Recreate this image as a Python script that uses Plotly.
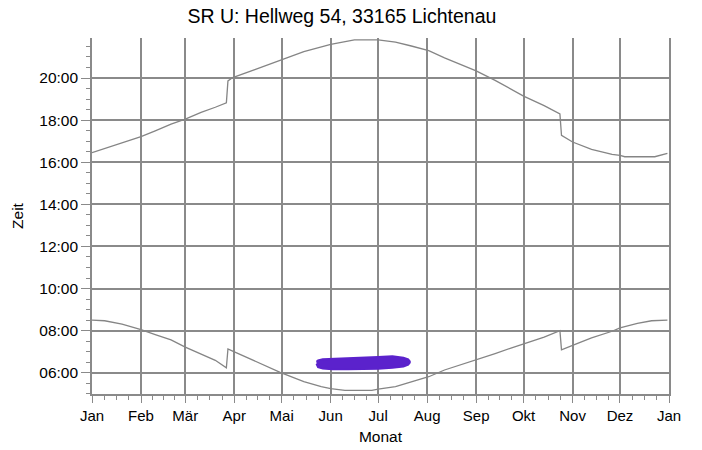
import plotly.graph_objects as go

# ---- data ----
month_labels = ["Jan", "Feb", "Mär", "Apr", "Mai", "Jun", "Jul", "Aug", "Sep", "Okt", "Nov", "Dez", "Jan"]
month_starts = [0, 31, 59, 90, 120, 151, 181, 212, 243, 273, 304, 334, 365]

# sunset (upper curve): day of year, hour
sunset_day = [0, 8, 19, 31, 40, 50, 59, 69, 78, 85, 86, 89, 103, 119, 134, 151, 166, 181,
              192, 202, 213, 223, 234, 243, 255, 265, 273, 286, 296, 297, 304, 316, 329, 334,
              337, 356, 364]
sunset_h = [16.45, 16.64, 16.90, 17.22, 17.49, 17.81, 18.05, 18.37, 18.61, 18.82, 19.86, 20.02,
            20.40, 20.85, 21.25, 21.60, 21.81, 21.81, 21.70, 21.52, 21.30, 20.96, 20.64, 20.34,
            19.89, 19.49, 19.14, 18.69, 18.29, 17.28, 16.96, 16.61, 16.37, 16.32, 16.26, 16.26,
            16.42]

# sunrise (lower curve): day of year, hour
sunrise_day = [0, 8, 19, 31, 40, 50, 59, 69, 78, 85, 86, 89, 103, 119, 134, 145, 151, 160,
               177, 181, 192, 202, 213, 223, 234, 243, 255, 265, 273, 286, 296, 297, 304, 316,
               329, 334, 345, 354, 364]
sunrise_h = [8.50, 8.47, 8.31, 8.05, 7.81, 7.56, 7.22, 6.88, 6.59, 6.23, 7.13, 7.03, 6.56, 6.02,
             5.58, 5.34, 5.25, 5.16, 5.16, 5.22, 5.34, 5.55, 5.81, 6.13, 6.39, 6.63, 6.91, 7.17,
             7.38, 7.69, 8.00, 7.09, 7.30, 7.66, 7.97, 8.13, 8.34, 8.47, 8.50]

# shadow period (purple area): day of year, start and end hour
shadow_day = [142, 143, 146, 152, 162, 172, 181, 190, 197, 200, 201]
shadow_start = [6.42, 6.26, 6.20, 6.17, 6.16, 6.17, 6.19, 6.24, 6.30, 6.38, 6.48]
shadow_end = [6.52, 6.58, 6.64, 6.67, 6.70, 6.73, 6.75, 6.78, 6.71, 6.63, 6.54]

y_tick_hours = [6, 8, 10, 12, 14, 16, 18, 20]
y_tick_labels = ["06:00", "08:00", "10:00", "12:00", "14:00", "16:00", "18:00", "20:00"]

# ---- figure ----
line_grey = "#858585"
grid_grey = "#8a8a8a"
font_family = "Liberation Sans, Arial, sans-serif"

fig = go.Figure()

fig.add_trace(go.Scatter(
    x=shadow_day + shadow_day[::-1],
    y=shadow_start + shadow_end[::-1],
    fill="toself", fillcolor="#5b22cc",
    line=dict(color="#5b22cc", width=2),
    mode="lines", hoverinfo="skip", showlegend=False,
))
fig.add_trace(go.Scatter(x=sunset_day, y=sunset_h, mode="lines",
                         line=dict(color=line_grey, width=1.3), showlegend=False))
fig.add_trace(go.Scatter(x=sunrise_day, y=sunrise_h, mode="lines",
                         line=dict(color=line_grey, width=1.3), showlegend=False))

x_minor = []
for i in range(12):
    s, e = month_starts[i], month_starts[i + 1]
    for k in range(1, 4):
        x_minor.append(s + k * (e - s) / 4)

y_minor = [h / 2 for h in range(10, 44) if h % 4 != 0]

fig.update_layout(
    width=702, height=450,
    margin=dict(l=92, r=33, t=38, b=56),
    paper_bgcolor="white", plot_bgcolor="white",
    font=dict(family=font_family, size=15, color="black"),
    title=dict(text="SR U: Hellweg 54, 33165 Lichtenau", x=0.487, xanchor="center",
               y=1 - 16 / 450, yanchor="middle", yref="container",
               font=dict(size=19.5, family=font_family, color="black")),
    xaxis=dict(
        range=[0, 365], tickmode="array", tickvals=month_starts, ticktext=month_labels,
        showgrid=True, gridcolor=grid_grey, gridwidth=1.6, zeroline=False,
        showline=True, linecolor=grid_grey, linewidth=1.6, mirror=False,
        ticks="outside", ticklen=7, tickcolor=grid_grey, tickwidth=1.3,
        tickfont=dict(size=15), automargin=False,
        minor=dict(tickmode="array", tickvals=x_minor, ticks="outside", ticklen=4,
                   tickcolor=grid_grey, tickwidth=1, showgrid=False),
        title=dict(text="Monat", standoff=8, font=dict(size=15.5)),
        fixedrange=True,
    ),
    yaxis=dict(
        range=[4.99, 21.9], tickmode="array", tickvals=y_tick_hours, ticktext=y_tick_labels,
        showgrid=True, gridcolor=grid_grey, gridwidth=1.6, zeroline=False,
        showline=True, linecolor=grid_grey, linewidth=1.6, mirror=True,
        ticks="outside", ticklen=9, tickcolor=grid_grey, tickwidth=1.3,
        tickfont=dict(size=15.5), automargin=False,
        minor=dict(tickmode="array", tickvals=y_minor, ticks="outside", ticklen=4,
                   tickcolor=grid_grey, tickwidth=1, showgrid=False),
        title=dict(text="Zeit", standoff=12, font=dict(size=15.5)),
        fixedrange=True,
    ),
)

fig.write_html("out.html", config={"displayModeBar": False},
               post_script="document.body.style.margin='0';")
